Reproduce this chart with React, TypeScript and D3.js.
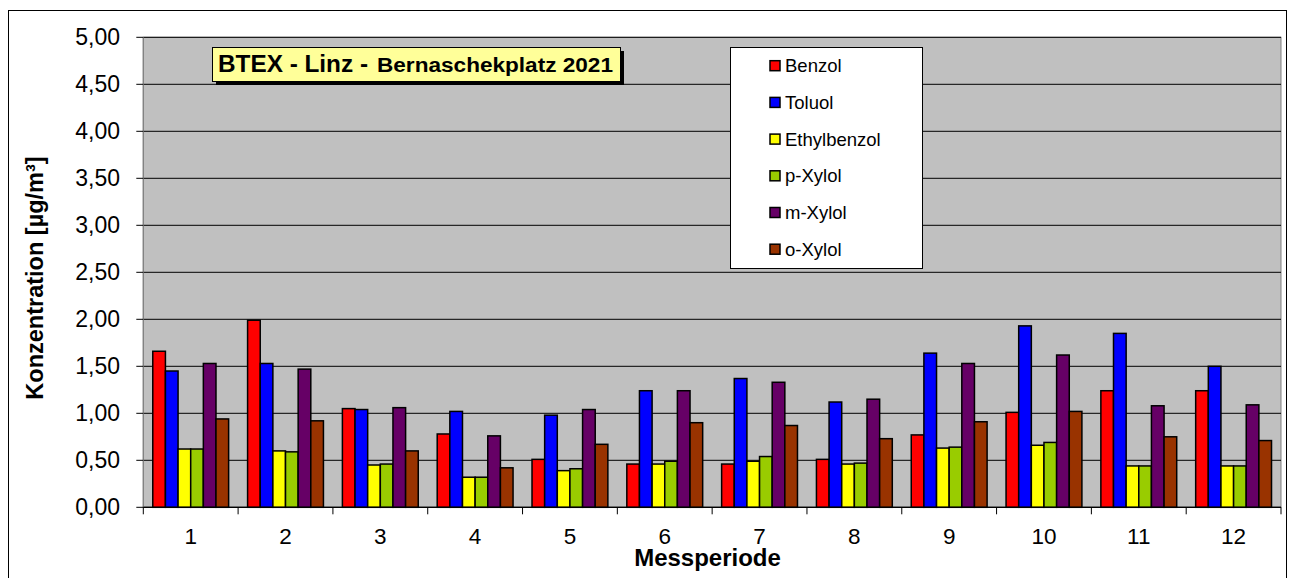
import React from 'react';
import * as d3 from 'd3';

// Messperioden und Messwerte in µg/m³
const periods = ['1', '2', '3', '4', '5', '6', '7', '8', '9', '10', '11', '12'];
const benzol = [1.66, 1.99, 1.05, 0.78, 0.51, 0.46, 0.46, 0.51, 0.77, 1.01, 1.24, 1.24];
const toluol = [1.45, 1.53, 1.04, 1.02, 0.98, 1.24, 1.37, 1.12, 1.64, 1.93, 1.85, 1.5];
const ethylbenzol = [0.62, 0.6, 0.45, 0.32, 0.39, 0.46, 0.49, 0.46, 0.63, 0.66, 0.44, 0.44];
const pXylol = [0.62, 0.59, 0.46, 0.32, 0.41, 0.49, 0.54, 0.47, 0.64, 0.69, 0.44, 0.44];
const mXylol = [1.53, 1.47, 1.06, 0.76, 1.04, 1.24, 1.33, 1.15, 1.53, 1.62, 1.08, 1.09];
const oXylol = [0.94, 0.92, 0.6, 0.42, 0.67, 0.9, 0.87, 0.73, 0.91, 1.02, 0.75, 0.71];

const seriesNames = ['Benzol', 'Toluol', 'Ethylbenzol', 'p-Xylol', 'm-Xylol', 'o-Xylol'];
const seriesValues = [benzol, toluol, ethylbenzol, pXylol, mXylol, oXylol];
const seriesColors = ['#ff0000', '#0000ff', '#ffff00', '#99cc00', '#660066', '#993300'];
const yTicks = [0, 0.5, 1, 1.5, 2, 2.5, 3, 3.5, 4, 4.5, 5];

const width = 1298;
const height = 578;
const plot = { left: 143.3, right: 1281, top: 37.3, bottom: 507.3 };
const font = '"Liberation Sans", Arial, sans-serif';

const locale = d3.formatLocale({ decimal: ',', thousands: '.', grouping: [3], currency: ['', ' €'] });
const fmt = locale.format('.2f');

const App: React.FC = () => {
  const x0 = d3.scaleBand<string>().domain(periods).range([plot.left, plot.right]).padding(0);
  const bw = x0.bandwidth();
  const x1 = d3.scaleBand<string>().domain(seriesNames).range([bw * 0.1, bw * 0.9]).padding(0);
  const y = d3.scaleLinear().domain([0, 5]).range([plot.bottom, plot.top]);

  const boundaries = periods.map((p) => x0(p) || 0).concat([plot.right]);

  return (
    <div style={{ position: 'absolute', left: 0, top: 0 }}>
      <svg width={width} height={height} style={{ display: 'block', background: '#fff', fontFamily: font }}>
        {/* outer frame */}
        <rect x={8.5} y={10.5} width={1278} height={600} fill="#fff" stroke="#000" strokeWidth={1} />

        {/* plot area */}
        <rect
          x={plot.left}
          y={plot.top}
          width={plot.right - plot.left}
          height={plot.bottom - plot.top}
          fill="#c0c0c0"
          stroke="#808080"
          strokeWidth={1}
        />

        {/* gridlines */}
        {yTicks.map((t) => (
          <line key={'g' + t} x1={plot.left} x2={plot.right} y1={y(t)} y2={y(t)} stroke="#000" strokeWidth={1} />
        ))}

        {/* y axis */}
        <line x1={plot.left} x2={plot.left} y1={plot.top} y2={plot.bottom} stroke="#808080" strokeWidth={1.2} />
        {yTicks.map((t) => (
          <g key={'yt' + t}>
            <line x1={plot.left - 7} x2={plot.left} y1={y(t)} y2={y(t)} stroke="#000" strokeWidth={1} />
            <text x={120} y={y(t) + 8} textAnchor="end" fontSize={23} fill="#000">
              {fmt(t)}
            </text>
          </g>
        ))}

        {/* bars */}
        {periods.map((p, i) => (
          <g key={'grp' + p} transform={`translate(${x0(p)},0)`}>
            {seriesNames.map((s, k) => {
              const v = seriesValues[k][i];
              return (
                <rect
                  key={s}
                  x={x1(s)}
                  y={y(v)}
                  width={x1.bandwidth()}
                  height={y(0) - y(v)}
                  fill={seriesColors[k]}
                  stroke="#000"
                  strokeWidth={1.5}
                />
              );
            })}
          </g>
        ))}

        {/* x axis */}
        <line x1={plot.left} x2={plot.right} y1={plot.bottom} y2={plot.bottom} stroke="#000" strokeWidth={1.2} />
        {boundaries.map((bx, i) => (
          <line key={'xt' + i} x1={bx} x2={bx} y1={plot.bottom} y2={plot.bottom + 7} stroke="#000" strokeWidth={1} />
        ))}
        {periods.map((p) => (
          <text key={'xl' + p} x={(x0(p) || 0) + bw / 2} y={544} textAnchor="middle" fontSize={22.5} fill="#000">
            {p}
          </text>
        ))}

        {/* axis titles */}
        <text x={707.5} y={566} textAnchor="middle" fontSize={24} fontWeight="bold" fill="#000">
          Messperiode
        </text>
        <text
          transform={`translate(42.7,278) rotate(-90)`}
          textAnchor="middle"
          fontSize={23.5}
          fontWeight="bold"
          fill="#000"
        >
          Konzentration [µg/m³]
        </text>

        {/* title box */}
        <rect x={216} y={51} width={408} height={34} fill="#000" />
        <rect x={212.5} y={47.5} width={408} height={34} fill="#ffff99" stroke="#000" strokeWidth={1} />
        <text x={218} y={72} fontWeight="bold" fontSize={23} fill="#000" textLength={150} lengthAdjust="spacingAndGlyphs">
          BTEX - Linz -
        </text>
        <text x={377} y={72} fontWeight="bold" fontSize={20} fill="#000" textLength={236} lengthAdjust="spacingAndGlyphs">
          Bernaschekplatz 2021
        </text>

        {/* legend */}
        <rect x={730.5} y={47.5} width={192} height={221} fill="#fff" stroke="#000" strokeWidth={1} />
        {seriesNames.map((s, k) => {
          const cy = 65.7 + k * 36.7;
          return (
            <g key={'lg' + s}>
              <rect x={770} y={cy - 5} width={10} height={10} fill={seriesColors[k]} stroke="#000" strokeWidth={1.5} />
              <text x={785} y={cy + 6.5} fontSize={18.5} fill="#000">
                {s}
              </text>
            </g>
          );
        })}
      </svg>
    </div>
  );
};

export default App;
